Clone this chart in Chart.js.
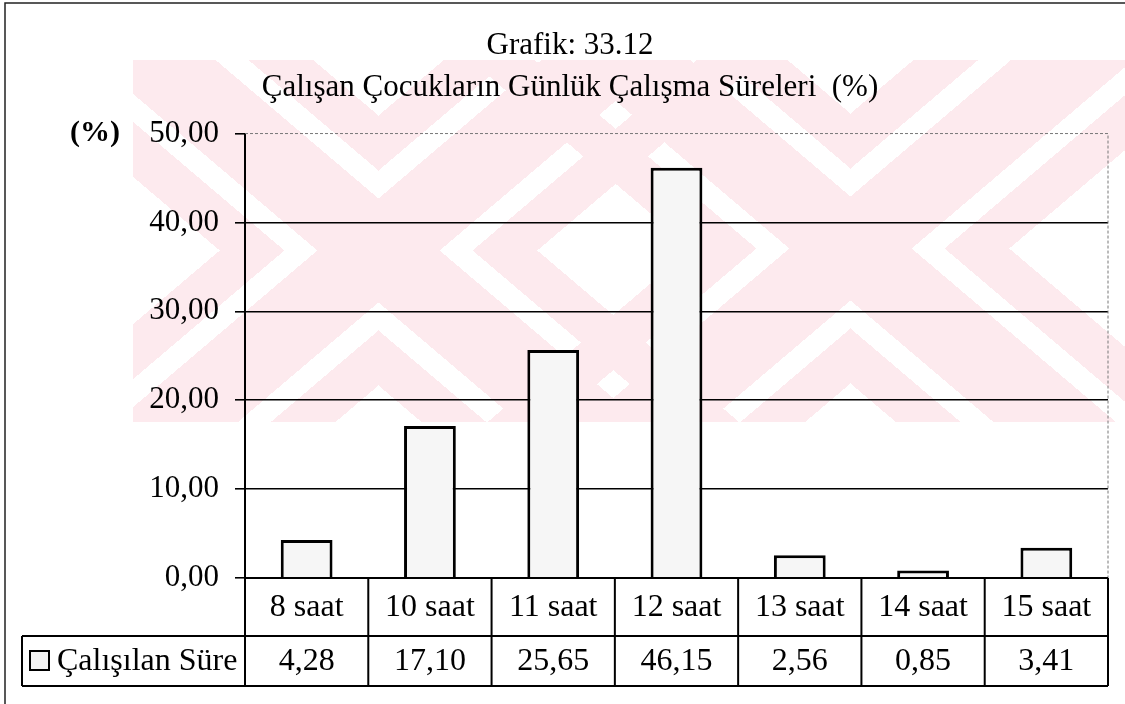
<!DOCTYPE html>
<html>
<head>
<meta charset="utf-8">
<script src="https://cdn.jsdelivr.net/npm/chart.js@4.4.1/dist/chart.umd.min.js"></script>
<style>
  html, body { margin: 0; padding: 0; background: #fff; }
  #wrap { width: 1125px; height: 704px; position: relative; }
</style>
</head>
<body>
<div id="wrap"><canvas id="grafik"></canvas></div>
<script>
/**
 * Variable
 */
const categories = ['8 saat', '10 saat', '11 saat', '12 saat', '13 saat', '14 saat', '15 saat'];
const calisilanSure = [4.28, 17.10, 25.65, 46.15, 2.56, 0.85, 3.41];
const yTicks = [0, 10, 20, 30, 40, 50];
const titleLines = ['Grafik: 33.12', 'Çalışan Çocukların Günlük Çalışma Süreleri  (%)'];
const seriesName = 'Çalışılan Süre';
const FONT = 'Liberation Serif';
const WATERMARK_COLOR = [253, 234, 238];

//////////////////////////////////////////////////////////////////

/**
 * Number with turkish comma
 */
function fmt(v) {
    return v.toFixed(2).replace('.', ',');
}

/**
 * Pale scan watermark behind the chart (two striped X shapes)
 */
function drawWatermark(ctx) {
    const x0 = 133, y0 = 60, w = 992, h = 362;
    const centers = [[378, 250], [850, 248]];
    const slope = 0.85, armF = 135, gapFrom = 52, gapTo = 80;
    const off = document.createElement('canvas');
    off.width = w;
    off.height = h;
    const octx = off.getContext('2d');
    const img = octx.createImageData(w, h);
    for (let y = 0; y < h; y++) {
        for (let x = 0; x < w; x++) {
            let pink = false;
            centers.forEach(function (c) {
                const dx = x + x0 - c[0];
                const dy = y + y0 - c[1];
                const f = Math.abs(Math.abs(dx) * slope - Math.abs(dy));
                if (f < armF && !(f > gapFrom && f < gapTo)) {
                    pink = true;
                }
            });
            if (pink) {
                const i = (y * w + x) * 4;
                img.data[i] = WATERMARK_COLOR[0];
                img.data[i + 1] = WATERMARK_COLOR[1];
                img.data[i + 2] = WATERMARK_COLOR[2];
                img.data[i + 3] = 255;
            }
        }
    }
    octx.putImageData(img, 0, 0);
    ctx.drawImage(off, x0, y0);
}

const backgroundPlugin = {
    id: 'scanBackground',
    beforeDraw(chart) {
        const ctx = chart.ctx;
        ctx.save();
        ctx.fillStyle = '#fff';
        ctx.fillRect(0, 0, chart.width, chart.height);
        drawWatermark(ctx);
        // page frame (top & left only)
        ctx.strokeStyle = '#222';
        ctx.lineWidth = 1.5;
        ctx.beginPath();
        ctx.moveTo(5, chart.height);
        ctx.lineTo(5, 3);
        ctx.lineTo(chart.width, 3);
        ctx.stroke();
        ctx.restore();
    }
};

/**
 * Data table under the plot + small decorations
 */
const tablePlugin = {
    id: 'dataTable',
    afterDraw(chart) {
        const ctx = chart.ctx;
        const area = chart.chartArea;
        const ys = chart.scales.y;
        const n = categories.length;
        const colW = (area.right - area.left) / n;
        const headBottom = area.bottom + 58;
        const rowBottom = headBottom + 50;
        const legendLeft = 22;

        ctx.save();
        // dotted top + right border of the plot
        ctx.strokeStyle = '#777';
        ctx.lineWidth = 1;
        ctx.setLineDash([3, 2]);
        ctx.beginPath();
        ctx.moveTo(area.left, ys.getPixelForValue(50));
        ctx.lineTo(area.right, ys.getPixelForValue(50));
        ctx.lineTo(area.right, area.bottom);
        ctx.stroke();
        ctx.setLineDash([]);

        // (%) label
        ctx.fillStyle = '#000';
        ctx.font = 'bold 30px ' + FONT;
        ctx.textBaseline = 'middle';
        ctx.textAlign = 'left';
        ctx.fillText('(%)', 70, ys.getPixelForValue(50));

        // table grid
        ctx.strokeStyle = '#000';
        ctx.lineWidth = 2;
        ctx.beginPath();
        ctx.moveTo(area.left, area.bottom);
        ctx.lineTo(area.right, area.bottom);
        ctx.moveTo(legendLeft, headBottom);
        ctx.lineTo(area.right, headBottom);
        ctx.moveTo(legendLeft, rowBottom);
        ctx.lineTo(area.right, rowBottom);
        ctx.moveTo(legendLeft, headBottom);
        ctx.lineTo(legendLeft, rowBottom);
        for (let i = 0; i <= n; i++) {
            const x = area.left + i * colW;
            ctx.moveTo(x, area.bottom);
            ctx.lineTo(x, rowBottom);
        }
        ctx.stroke();

        // texts
        ctx.font = '32px ' + FONT;
        ctx.textAlign = 'center';
        categories.forEach(function (label, i) {
            const x = chart.scales.x.getPixelForValue(i);
            ctx.fillText(label, x, (area.bottom + headBottom) / 2 + 1);
            ctx.fillText(fmt(calisilanSure[i]), x, (headBottom + rowBottom) / 2 + 1);
        });

        // legend key
        const keyY = (headBottom + rowBottom) / 2 - 10;
        ctx.lineWidth = 2;
        ctx.fillStyle = '#f4f4f4';
        ctx.fillRect(30, keyY, 19, 19);
        ctx.strokeRect(30, keyY, 19, 19);
        ctx.fillStyle = '#000';
        ctx.textAlign = 'left';
        ctx.fillText(seriesName, 57, (headBottom + rowBottom) / 2 + 1);
        ctx.restore();
    }
};

/**
 * Load bar chart
 */
function loadBarChart(id) {
    const data = {
        labels: categories,
        datasets: [{
            label: seriesName,
            data: calisilanSure,
            backgroundColor: '#f6f6f6',
            borderColor: '#000',
            borderWidth: 3,
            barPercentage: 0.42,
            categoryPercentage: 1.0
        }]
    };
    const config = {
        type: 'bar',
        data: data,
        options: {
            responsive: false,
            animation: false,
            layout: {
                padding: { left: 32, right: 17, top: 0, bottom: 0 }
            },
            plugins: {
                legend: { display: false },
                tooltip: { enabled: false },
                title: {
                    display: true,
                    text: titleLines,
                    color: '#000',
                    font: { family: FONT, size: 31, weight: 'normal', lineHeight: 1.38 },
                    padding: { top: 24, bottom: 24 }
                }
            },
            scales: {
                x: {
                    ticks: { display: false },
                    grid: { display: false },
                    border: { display: false },
                    afterFit: function (scale) { scale.height = 126; }
                },
                y: {
                    min: yTicks[0],
                    max: yTicks[yTicks.length - 1],
                    afterBuildTicks: function (scale) {
                        scale.ticks = yTicks.map(function (v) { return { value: v }; });
                    },
                    ticks: {
                        color: '#000',
                        padding: 16,
                        font: { family: FONT, size: 31 },
                        callback: function (v) { return fmt(v); }
                    },
                    grid: {
                        color: function (c) { return c.tick && c.tick.value === 50 ? 'rgba(0,0,0,0)' : '#000'; },
                        tickColor: '#000',
                        lineWidth: 1.6,
                        tickLength: 10
                    },
                    border: { color: '#000', width: 2 },
                    afterFit: function (scale) { scale.width = 213; }
                }
            }
        },
        plugins: [backgroundPlugin, tablePlugin]
    };
    const ctx = document.getElementById(id);
    ctx.width = 1125;
    ctx.height = 704;
    return new Chart(ctx, config);
}

loadBarChart('grafik');
</script>
</body>
</html>
